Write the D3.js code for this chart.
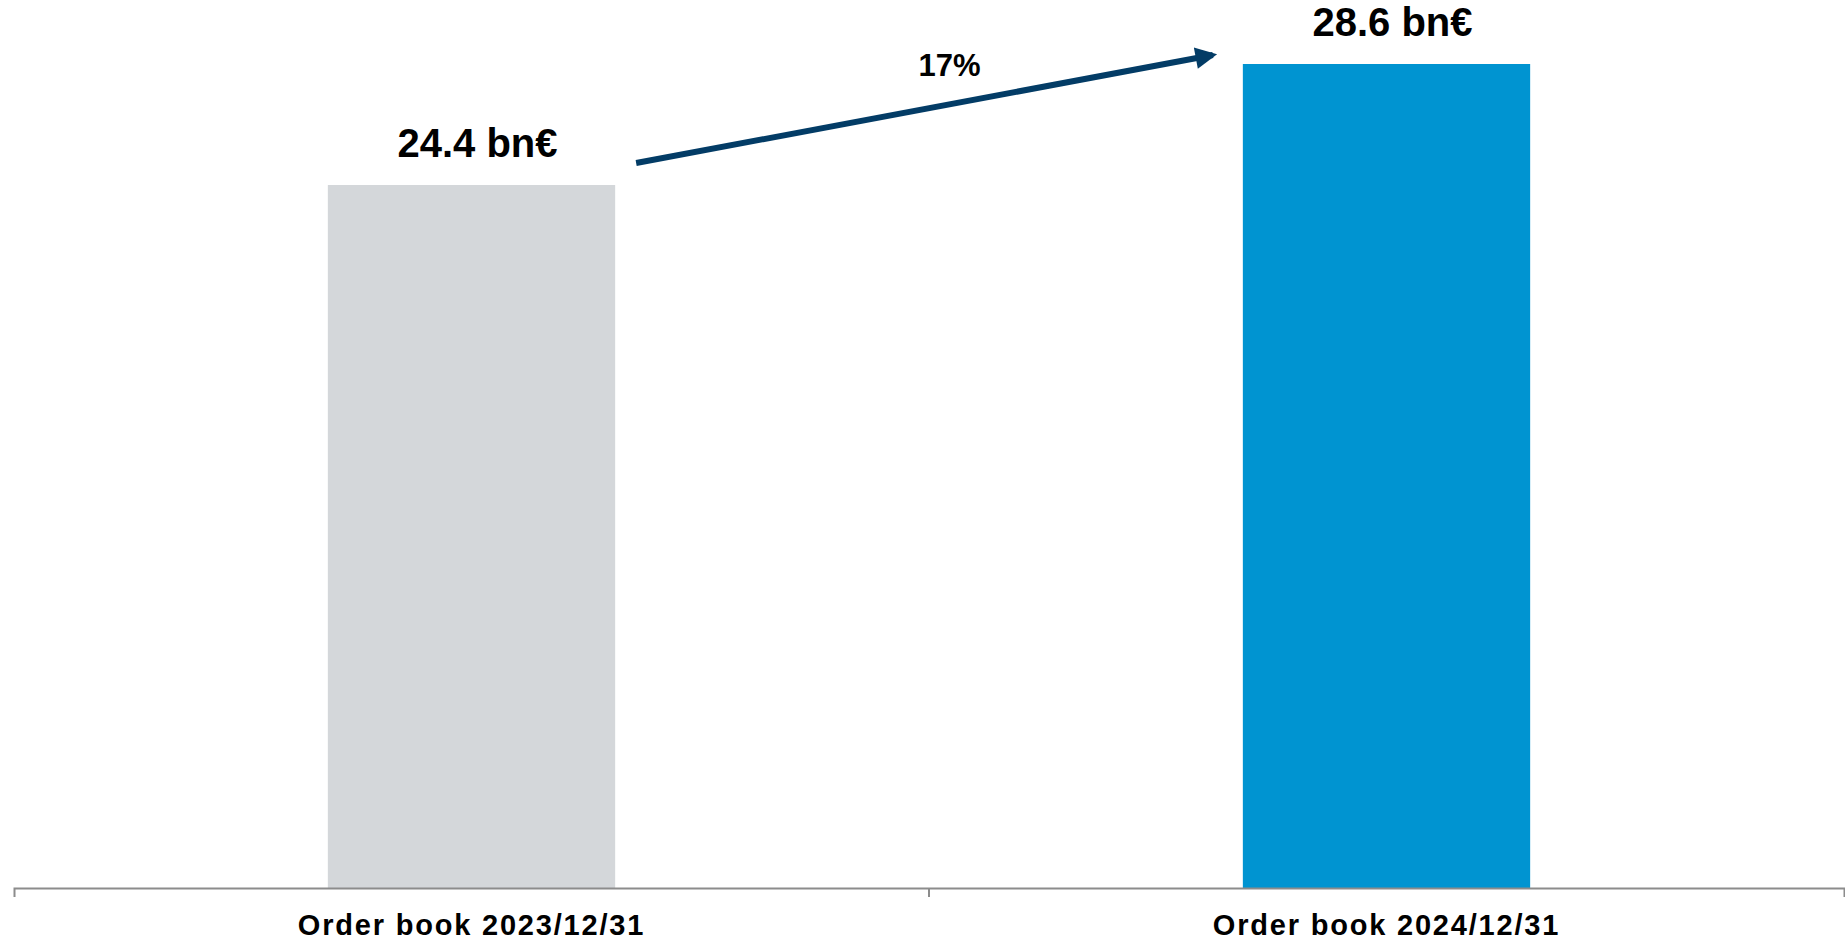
<!DOCTYPE html>
<html>
<head>
<meta charset="utf-8">
<script src="https://cdn.jsdelivr.net/npm/d3@7/dist/d3.min.js"></script>
<style>
  html, body { margin: 0; padding: 0; background: #ffffff; }
  svg { display: block; }
  text { font-family: "Liberation Sans", Arial, Helvetica, sans-serif; font-weight: bold; fill: #000; }
</style>
</head>
<body>
<svg id="chart" width="1845" height="944"></svg>
<script>
const categories = ["Order book 2023/12/31", "Order book 2024/12/31"];
const values = [24.4, 28.6];
const valueLabels = ["24.4 bn€", "28.6 bn€"];
const barColors = ["#d4d7da", "#0094d1"];
const growthLabel = "17%";

const svg = d3.select("#chart");

const x = d3.scaleBand()
  .domain(categories)
  .range([14, 1844])
  .paddingInner(0.686)
  .paddingOuter(0.343);

const y = d3.scaleLinear()
  .domain([0, d3.max(values)])
  .range([888, 64]);

const data = categories.map((c, i) => ({ c, v: values[i], label: valueLabels[i], color: barColors[i] }));

// bars
svg.append("g").selectAll("rect")
  .data(data)
  .join("rect")
  .attr("x", d => x(d.c))
  .attr("y", d => y(d.v))
  .attr("width", x.bandwidth())
  .attr("height", d => y(0) - y(d.v))
  .attr("fill", d => d.color);

// value labels
svg.append("g").selectAll("text")
  .data(data)
  .join("text")
  .attr("x", d => x(d.c) + x.bandwidth() / 2 + 6)
  .attr("y", d => y(d.v) - 28)
  .attr("text-anchor", "middle")
  .attr("font-size", 40)
  .text(d => d.label);

// axis
const axis = d3.axisBottom(x).tickSize(0).tickSizeOuter(9).tickPadding(47);
const gAxis = svg.append("g")
  .attr("transform", `translate(0,${y(0)})`)
  .call(axis);
gAxis.select(".domain").attr("stroke", "#8c8c8c").attr("stroke-width", 2).attr("fill", "none");
gAxis.selectAll(".tick text")
  .attr("font-size", 29)
  .attr("font-family", "'Liberation Sans', Arial, sans-serif")
  .attr("font-weight", "bold")
  .attr("letter-spacing", "1.8px")
  .attr("fill", "#000")
  .attr("dy", "0");
// separator tick between categories
const step = x.step();
const boundaries = categories.slice(1).map(c => x(c) - x.paddingInner() * step / 2);
gAxis.selectAll(".sep")
  .data(boundaries)
  .join("line")
  .attr("class", "sep")
  .attr("x1", d => d).attr("x2", d => d)
  .attr("y1", 0).attr("y2", 9)
  .attr("stroke", "#8c8c8c").attr("stroke-width", 2);

// growth arrow
const defs = svg.append("defs");
defs.append("marker")
  .attr("id", "arrowhead")
  .attr("viewBox", "0 0 10 10")
  .attr("refX", 8).attr("refY", 5)
  .attr("markerWidth", 3.8).attr("markerHeight", 3.6)
  .attr("markerUnits", "strokeWidth")
  .attr("orient", "auto")
  .append("path")
  .attr("d", "M0,0 L10,5 L0,10 Z")
  .attr("fill", "#033c66");

const x0 = x(categories[0]) + x.bandwidth() + 21;
const y0 = y(values[0]) - 22;
const x1 = x(categories[1]) - 30;
const y1 = y(values[1]) - 9;
svg.append("line")
  .attr("x1", x0).attr("y1", y0)
  .attr("x2", x1).attr("y2", y1)
  .attr("stroke", "#033c66")
  .attr("stroke-width", 6)
  .attr("marker-end", "url(#arrowhead)");

svg.append("text")
  .attr("x", (x0 + x1) / 2 + 25)
  .attr("y", 76)
  .attr("text-anchor", "middle")
  .attr("font-size", 31)
  .text(growthLabel);
</script>
</body>
</html>
